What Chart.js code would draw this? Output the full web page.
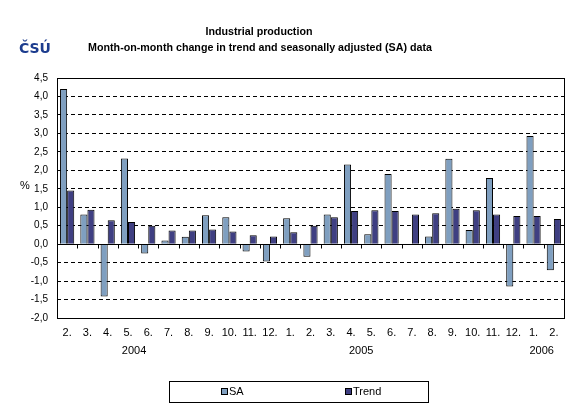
<!DOCTYPE html>
<html>
<head>
<meta charset="utf-8">
<script src="https://cdn.jsdelivr.net/npm/chart.js@4"></script>
<style>
  html, body { margin: 0; padding: 0; background: #fff; }
  #wrap { width: 576px; height: 408px; }
</style>
</head>
<body>
<div id="wrap"><canvas id="chart" width="576" height="408"></canvas></div>
<script>
// months (2/2004 .. 2/2006)
const months = ['2.', '3.', '4.', '5.', '6.', '7.', '8.', '9.', '10.', '11.', '12.',
                '1.', '2.', '3.', '4.', '5.', '6.', '7.', '8.', '9.', '10.', '11.', '12.',
                '1.', '2.'];
const saValues = [4.2, 0.8, -1.42, 2.32, -0.25, 0.1, 0.2, 0.78, 0.73, -0.2, -0.47,
                  0.7, -0.34, 0.8, 2.16, 0.27, 1.9, 0, 0.21, 2.31, 0.38, 1.79, -1.15,
                  2.93, -0.71];
const trendValues = [1.45, 0.93, 0.65, 0.6, 0.5, 0.37, 0.37, 0.4, 0.34, 0.24, 0.21,
                     0.32, 0.5, 0.73, 0.9, 0.92, 0.9, 0.8, 0.84, 0.96, 0.92, 0.8, 0.76,
                     0.76, 0.68];
const yearLabels = ['2004', '2005', '2006'];
const yearPos = [3.8, 15.0, 23.9];   // v jednotkách kategorií od levého okraje

const titleLines = ['Industrial production',
                    'Month-on-month change in trend and seasonally adjusted (SA) data'];

const SA_COLOR = '#7f9fc0';
const TREND_COLOR = '#3f3f82';
const FONT = 'Arial, "Liberation Sans", sans-serif';

// popisky, rámeček, legenda, logo
const decorPlugin = {
    id: 'decor',
    afterDraw(chart) {
        const ctx = chart.ctx;
        const a = chart.chartArea;
        const y = chart.scales.y;
        const step = (a.right - a.left) / months.length;
        ctx.save();

        // rámeček grafu
        ctx.strokeStyle = '#000';
        ctx.lineWidth = 1;
        ctx.setLineDash([]);
        ctx.strokeRect(Math.round(a.left) + 0.5, Math.round(a.top) + 0.5,
                       Math.round(a.right - a.left), Math.round(a.bottom - a.top));

        // nulová osa + značky
        const y0 = Math.round(y.getPixelForValue(0)) + 0.5;
        ctx.beginPath();
        ctx.moveTo(a.left, y0);
        ctx.lineTo(a.right, y0);
        for (let i = 1; i < months.length; i++) {
            const x = Math.round(a.left + i * step) + 0.5;
            ctx.moveTo(x, y0);
            ctx.lineTo(x, y0 + 4);
        }
        ctx.stroke();

        // roky
        ctx.fillStyle = '#000';
        ctx.font = '11px ' + FONT;
        ctx.textAlign = 'center';
        ctx.textBaseline = 'middle';
        yearLabels.forEach((t, i) => ctx.fillText(t, a.left + yearPos[i] * step, 351));

        // %
        ctx.fillText('%', 25, 186);

        // titulek
        ctx.font = 'bold 10.7px ' + FONT;
        ctx.fillText(titleLines[0], 259, 32);
        ctx.fillText(titleLines[1], 260, 48);

        // logo
        ctx.font = 'bold 14px "DejaVu Sans", sans-serif';
        ctx.fillStyle = '#1c3c8e';
        ctx.textAlign = 'left';
        ctx.fillText('ČSÚ', 19, 49);

        // legenda
        ctx.strokeStyle = '#000';
        ctx.strokeRect(169.5, 381.5, 259, 21);
        const items = [[chart.data.datasets[0], 221], [chart.data.datasets[1], 345]];
        ctx.font = '11px ' + FONT;
        items.forEach(([ds, x]) => {
            ctx.fillStyle = ds.backgroundColor;
            ctx.fillRect(x, 388, 6, 6);
            ctx.strokeRect(x + 0.5, 388.5, 6, 6);
            ctx.fillStyle = '#000';
            ctx.textAlign = 'left';
            ctx.fillText(ds.label, x + 8, 392);
        });
        ctx.restore();
    }
};

const ctx = document.getElementById('chart').getContext('2d');
const chart = new Chart(ctx, {
    type: 'bar',
    data: {
        labels: months,
        datasets: [
            {
                label: 'SA',
                data: saValues,
                backgroundColor: SA_COLOR,
                borderColor: '#000',
                borderWidth: 1,
                categoryPercentage: 0.7,
                barPercentage: 1.0
            },
            {
                label: 'Trend',
                data: trendValues,
                backgroundColor: TREND_COLOR,
                borderColor: '#000',
                borderWidth: 1,
                categoryPercentage: 0.7,
                barPercentage: 1.0
            }
        ]
    },
    options: {
        responsive: false,
        animation: false,
        layout: { padding: { left: 0, top: 78, right: 12, bottom: 0 } },
        plugins: {
            legend: { display: false },
            title: { display: false },
            tooltip: { enabled: false }
        },
        scales: {
            x: {
                grid: { display: false, drawTicks: false },
                border: { display: false },
                ticks: {
                    color: '#000',
                    font: { family: FONT, size: 11 },
                    maxRotation: 0,
                    autoSkip: false,
                    padding: 8
                },
                afterFit(s) { s.height = 90; }
            },
            y: {
                min: -2,
                max: 4.5,
                border: { display: false, dash: [4, 3] },
                grid: {
                    color: '#000',
                    lineWidth: 1,
                    drawTicks: false
                },
                ticks: {
                    stepSize: 0.5,
                    color: '#000',
                    padding: 9,
                    font: { family: FONT, size: 10 },
                    callback: v => v.toFixed(1).replace('.', ',')
                },
                afterFit(s) { s.width = 57; }
            }
        }
    },
    plugins: [decorPlugin]
});
</script>
</body>
</html>
